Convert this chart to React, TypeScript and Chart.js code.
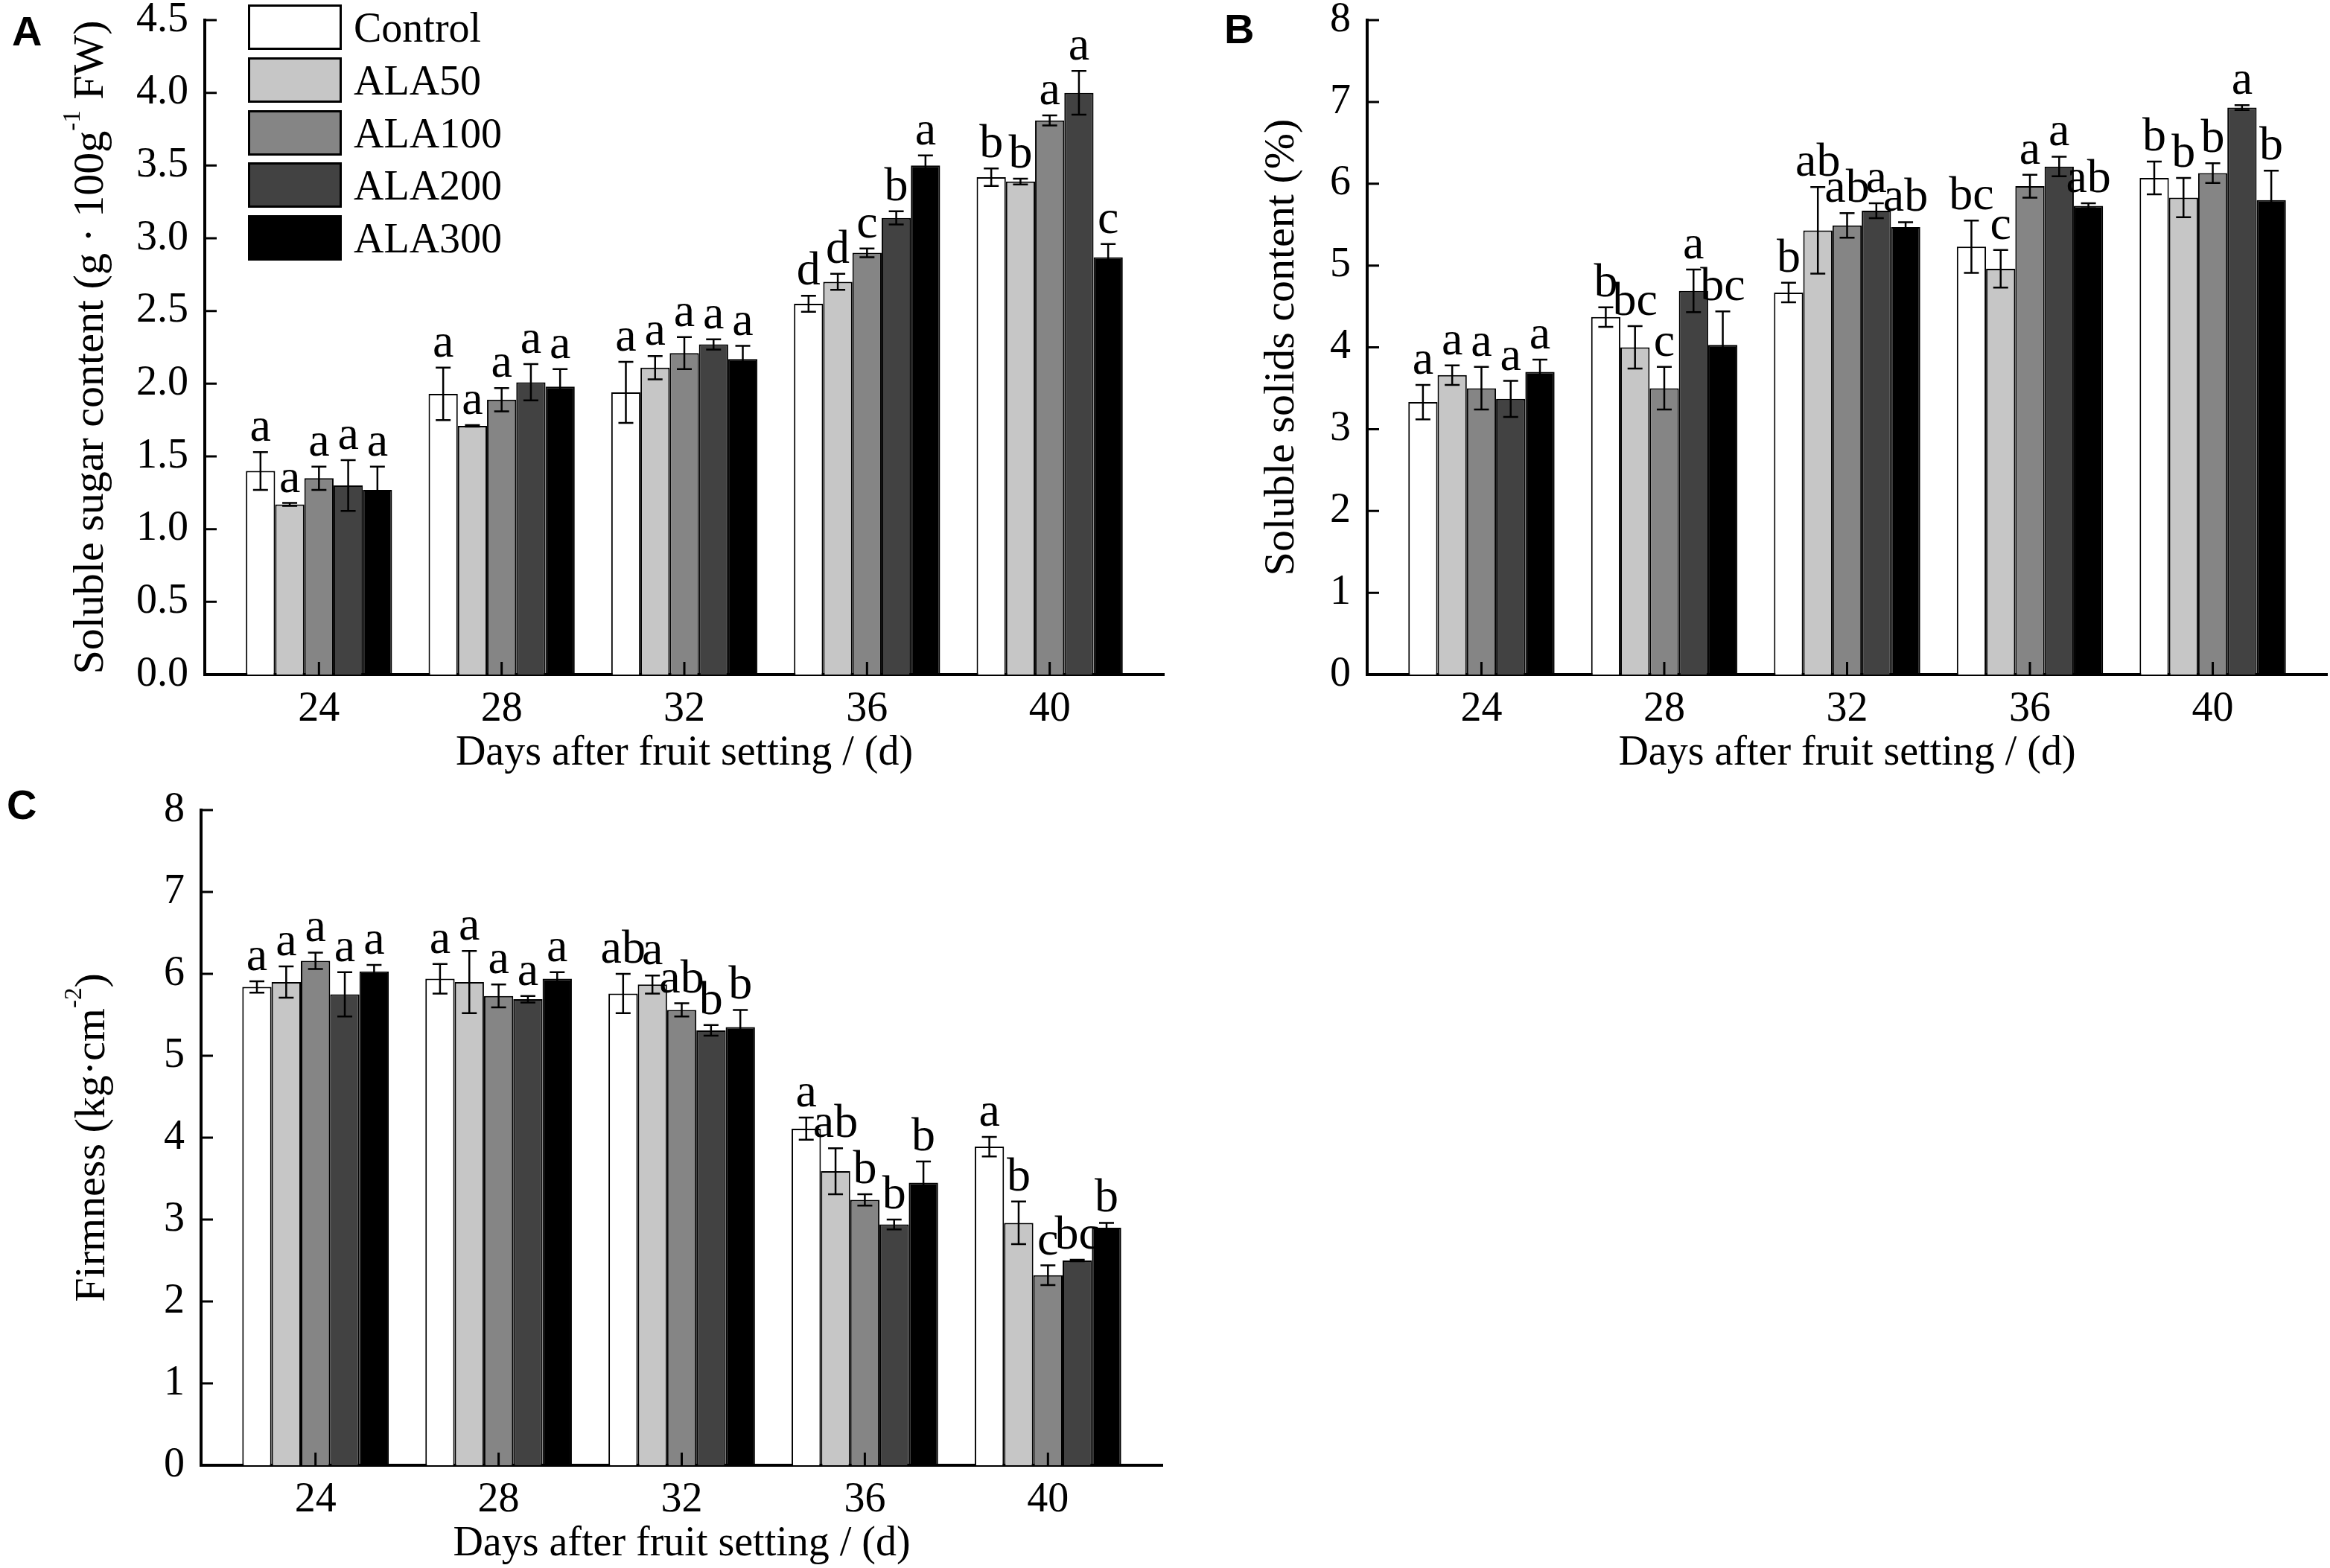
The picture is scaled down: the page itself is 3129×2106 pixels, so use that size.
import React, { useEffect, useRef } from "react";
import { Chart, registerables } from "chart.js";

Chart.register(...registerables);

// ---------------- DATA ----------------
const days = [24, 28, 32, 36, 40];
const treatments = ["Control", "ALA50", "ALA100", "ALA200", "ALA300"];
const fillColors = ["#ffffff", "#c6c6c6", "#858585", "#424242", "#000000"];

// Panel A: soluble sugar content (rows = treatments, columns = days)
const sugarMean = [
  [1.4, 1.93, 1.94, 2.55, 3.42],
  [1.17, 1.71, 2.11, 2.7, 3.39],
  [1.35, 1.89, 2.21, 2.9, 3.81],
  [1.3, 2.01, 2.27, 3.14, 4.0],
  [1.27, 1.98, 2.17, 3.5, 2.87],
];
const sugarErr = [
  [0.13, 0.18, 0.21, 0.055, 0.06],
  [0.01, 0.005, 0.08, 0.055, 0.02],
  [0.08, 0.08, 0.11, 0.03, 0.035],
  [0.175, 0.125, 0.035, 0.045, 0.15],
  [0.16, 0.12, 0.09, 0.07, 0.09],
];
const sugarLetters = [
  ["a", "a", "a", "d", "b"],
  ["a", "a", "a", "d", "b"],
  ["a", "a", "a", "c", "a"],
  ["a", "a", "a", "b", "a"],
  ["a", "a", "a", "a", "c"],
];
const sugarYTicks = [0, 0.5, 1.0, 1.5, 2.0, 2.5, 3.0, 3.5, 4.0, 4.5];

// Panel B: soluble solids content
const solidsMean = [
  [3.33, 4.37, 4.67, 5.23, 6.07],
  [3.66, 4.0, 5.43, 4.96, 5.83],
  [3.5, 3.5, 5.49, 5.97, 6.13],
  [3.37, 4.69, 5.67, 6.21, 6.93],
  [3.7, 4.03, 5.47, 5.73, 5.8],
];
const solidsErr = [
  [0.21, 0.12, 0.12, 0.32, 0.2],
  [0.12, 0.26, 0.53, 0.23, 0.24],
  [0.26, 0.26, 0.15, 0.14, 0.12],
  [0.22, 0.26, 0.09, 0.12, 0.03],
  [0.15, 0.41, 0.06, 0.03, 0.36],
];
const solidsLetters = [
  ["a", "b", "b", "bc", "b"],
  ["a", "bc", "ab", "c", "b"],
  ["a", "c", "ab", "a", "b"],
  ["a", "a", "a", "a", "a"],
  ["a", "bc", "ab", "ab", "b"],
];
const solidsYTicks = [0, 1, 2, 3, 4, 5, 6, 7, 8];

// Panel C: firmness
const firmMean = [
  [5.84, 5.94, 5.76, 4.11, 3.89],
  [5.9, 5.9, 5.87, 3.59, 2.96],
  [6.16, 5.73, 5.56, 3.24, 2.32],
  [5.75, 5.69, 5.31, 2.94, 2.5],
  [6.03, 5.94, 5.35, 3.45, 2.9],
];
const firmErr = [
  [0.07, 0.18, 0.24, 0.135, 0.12],
  [0.19, 0.38, 0.11, 0.28, 0.26],
  [0.1, 0.14, 0.08, 0.07, 0.12],
  [0.27, 0.04, 0.065, 0.06, 0.01],
  [0.08, 0.08, 0.21, 0.26, 0.06],
];
const firmLetters = [
  ["a", "a", "ab", "a", "a"],
  ["a", "a", "a", "ab", "b"],
  ["a", "a", "ab", "b", "c"],
  ["a", "a", "b", "b", "bc"],
  ["a", "a", "b", "b", "b"],
];
const firmYTicks = [0, 1, 2, 3, 4, 5, 6, 7, 8];

const xTitle = "Days after fruit setting / (d)";

// ---------------- STYLE / LAYOUT ----------------
const SERIF = "'Liberation Serif', 'Times New Roman', Times, serif";
const SANS = "'Liberation Sans', Arial, Helvetica, sans-serif";

type TitlePart = { t: string; sup?: boolean };

type Panel = {
  label: string;
  mean: number[][];
  err: number[][];
  letters: string[][];
  yTicks: number[];
  decimals: number;
  yTitle: TitlePart[];
  left: number;
  top: number;
  w: number;
  h: number;
  area: { left: number; top: number; right: number; bottom: number };
  yTitleX: number;
  labelPos: { x: number; y: number };
  legend: boolean;
};

const panels: Panel[] = [
  {
    label: "A",
    mean: sugarMean,
    err: sugarErr,
    letters: sugarLetters,
    yTicks: sugarYTicks,
    decimals: 1,
    yTitle: [{ t: "Soluble sugar content (g \u00b7 100g" }, { t: "-1", sup: true }, { t: " FW)" }],
    left: 0,
    top: 0,
    w: 1570,
    h: 1050,
    area: { left: 275, top: 27, right: 1563, bottom: 906 },
    yTitleX: 138,
    labelPos: { x: 16, y: 61 },
    legend: true,
  },
  {
    label: "B",
    mean: solidsMean,
    err: solidsErr,
    letters: solidsLetters,
    yTicks: solidsYTicks,
    decimals: 0,
    yTitle: [{ t: "Soluble solids content (%)" }],
    left: 1570,
    top: 0,
    w: 1559,
    h: 1050,
    area: { left: 266, top: 27, right: 1555, bottom: 906 },
    yTitleX: 167,
    labelPos: { x: 74, y: 58 },
    legend: false,
  },
  {
    label: "C",
    mean: firmMean,
    err: firmErr,
    letters: firmLetters,
    yTicks: firmYTicks,
    decimals: 0,
    yTitle: [{ t: "Firmness (kg\u00b7cm" }, { t: "-2", sup: true }, { t: ")" }],
    left: 0,
    top: 1050,
    w: 1570,
    h: 1056,
    area: { left: 270, top: 38, right: 1561, bottom: 918 },
    yTitleX: 140,
    labelPos: { x: 9, y: 50 },
    legend: false,
  },
];

const TITLE_SIZE = 56;
const YTITLE_SIZE = 58;
const SUP_SIZE = 33;
const LETTER_SIZE = 64;

function makePlugin(p: Panel) {
  return {
    id: "decor" + p.label,
    afterDatasetsDraw(chart: any) {
      const ctx: CanvasRenderingContext2D = chart.ctx;
      const ys = chart.scales.y;
      const xs = chart.scales.x;
      const area = chart.chartArea;
      ctx.save();
      // inward tick marks
      ctx.strokeStyle = "#000";
      ctx.lineWidth = 3;
      ctx.beginPath();
      p.yTicks.forEach((v) => {
        const py = ys.getPixelForValue(v);
        ctx.moveTo(area.left, py);
        ctx.lineTo(area.left + 16, py);
      });
      days.forEach((d) => {
        const px = xs.getPixelForValue(d);
        ctx.moveTo(px, area.bottom);
        ctx.lineTo(px, area.bottom - 17);
      });
      ctx.stroke();

      // error bars + letters
      chart.data.datasets.forEach((_ds: any, i: number) => {
        const meta = chart.getDatasetMeta(i);
        meta.data.forEach((bar: any, j: number) => {
          const m = p.mean[i][j];
          const e = p.err[i][j];
          const px = bar.x;
          const yTop = ys.getPixelForValue(m + e);
          const yBot = ys.getPixelForValue(m - e);
          ctx.strokeStyle = "#000";
          ctx.lineWidth = 2.5;
          ctx.beginPath();
          ctx.moveTo(px, yTop);
          ctx.lineTo(px, yBot);
          ctx.moveTo(px - 10, yTop);
          ctx.lineTo(px + 10, yTop);
          ctx.moveTo(px - 10, yBot);
          ctx.lineTo(px + 10, yBot);
          ctx.stroke();
          ctx.fillStyle = "#000";
          ctx.font = `${LETTER_SIZE}px ${SERIF}`;
          ctx.textAlign = "center";
          ctx.textBaseline = "alphabetic";
          ctx.fillText(p.letters[i][j], px, yTop - 15);
        });
      });
      ctx.restore();
    },
    afterDraw(chart: any) {
      const ctx: CanvasRenderingContext2D = chart.ctx;
      const area = chart.chartArea;
      ctx.save();
      ctx.fillStyle = "#000";

      // x title
      ctx.font = `${TITLE_SIZE}px ${SERIF}`;
      ctx.textAlign = "center";
      ctx.textBaseline = "middle";
      ctx.fillText(xTitle, (area.left + area.right) / 2, area.bottom + 106);

      // y title (rotated, with superscript)
      const widths = p.yTitle.map((part) => {
        ctx.font = `${part.sup ? SUP_SIZE : YTITLE_SIZE}px ${SERIF}`;
        return ctx.measureText(part.t).width;
      });
      const total = widths.reduce((a, b) => a + b, 0);
      ctx.translate(p.yTitleX, (area.top + area.bottom) / 2);
      ctx.rotate(-Math.PI / 2);
      ctx.textAlign = "left";
      ctx.textBaseline = "alphabetic";
      let cx = -total / 2;
      p.yTitle.forEach((part, k) => {
        ctx.font = `${part.sup ? SUP_SIZE : YTITLE_SIZE}px ${SERIF}`;
        ctx.fillText(part.t, cx, part.sup ? -31 : 0);
        cx += widths[k];
      });
      ctx.setTransform(1, 0, 0, 1, 0, 0);

      // panel label
      ctx.font = `bold 56px ${SANS}`;
      ctx.textAlign = "left";
      ctx.textBaseline = "alphabetic";
      ctx.fillText(p.label, p.labelPos.x, p.labelPos.y);

      // legend
      if (p.legend) {
        const bx = 333;
        const bw = 126;
        const bh = 61;
        const rowTops = [6, 77, 148, 218, 289];
        chart.data.datasets.forEach((ds: any, i: number) => {
          const ty = rowTops[i];
          ctx.fillStyle = ds.backgroundColor;
          ctx.fillRect(bx, ty, bw, bh);
          ctx.strokeStyle = "#000";
          ctx.lineWidth = 3;
          ctx.strokeRect(bx + 1.5, ty + 1.5, bw - 3, bh - 3);
          ctx.fillStyle = "#000";
          ctx.font = `${TITLE_SIZE}px ${SERIF}`;
          ctx.textAlign = "left";
          ctx.textBaseline = "alphabetic";
          ctx.fillText(ds.label, 475, ty + bh / 2 + 19);
        });
      }
      ctx.restore();
    },
  };
}

function PanelChart({ p }: { p: Panel }) {
  const ref = useRef<HTMLCanvasElement>(null);
  useEffect(() => {
    const canvas = ref.current;
    if (!canvas) return;
    const chart = new Chart(canvas, {
      type: "bar",
      data: {
        datasets: treatments.map((name, i) => ({
          label: name,
          data: days.map((d, j) => ({ x: d, y: p.mean[i][j] })),
          backgroundColor: fillColors[i],
          borderColor: "#000",
          borderWidth: 2,
          categoryPercentage: 0.8,
          barPercentage: 1.0,
        })),
      },
      options: {
        responsive: false,
        animation: false,
        devicePixelRatio: 1,
        layout: {
          padding: { left: 0, top: p.area.top, right: p.w - p.area.right, bottom: 0 },
        },
        plugins: {
          legend: { display: false },
          tooltip: { enabled: false },
        },
        scales: {
          x: {
            type: "linear",
            min: 21.5,
            max: 42.5,
            offset: false,
            grid: { display: false, drawTicks: false, offset: false },
            border: { display: true, color: "#000", width: 4 },
            ticks: {
              font: { family: SERIF, size: 56 },
              color: "#000",
              padding: 14,
              autoSkip: false,
              maxRotation: 0,
              callback: (v: any) => String(v),
            },
            afterBuildTicks: (s: any) => {
              s.ticks = days.map((v) => ({ value: v }));
            },
            afterFit: (s: any) => {
              s.height = p.h - p.area.bottom;
              s.paddingLeft = 0;
              s.paddingRight = 0;
            },
          },
          y: {
            type: "linear",
            min: 0,
            max: p.yTicks[p.yTicks.length - 1],
            grid: { display: false, drawTicks: false },
            border: { display: true, color: "#000", width: 4 },
            ticks: {
              font: { family: SERIF, size: 56 },
              color: "#000",
              padding: 22,
              autoSkip: false,
              callback: (v: any) => Number(v).toFixed(p.decimals),
            },
            afterBuildTicks: (s: any) => {
              s.ticks = p.yTicks.map((v) => ({ value: v }));
            },
            afterFit: (s: any) => {
              s.width = p.area.left;
              s.paddingTop = 0;
              s.paddingBottom = 0;
            },
          },
        },
      } as any,
      plugins: [makePlugin(p) as any],
    });
    return () => chart.destroy();
  }, []);
  return (
    <canvas
      ref={ref}
      width={p.w}
      height={p.h}
      style={{ position: "absolute", left: p.left, top: p.top, width: p.w, height: p.h }}
    />
  );
}

export default function App() {
  return (
    <div
      style={{
        position: "fixed",
        left: 0,
        top: 0,
        width: 3129,
        height: 2106,
        background: "#ffffff",
        overflow: "hidden",
      }}
    >
      {panels.map((p) => (
        <PanelChart key={p.label} p={p} />
      ))}
    </div>
  );
}
